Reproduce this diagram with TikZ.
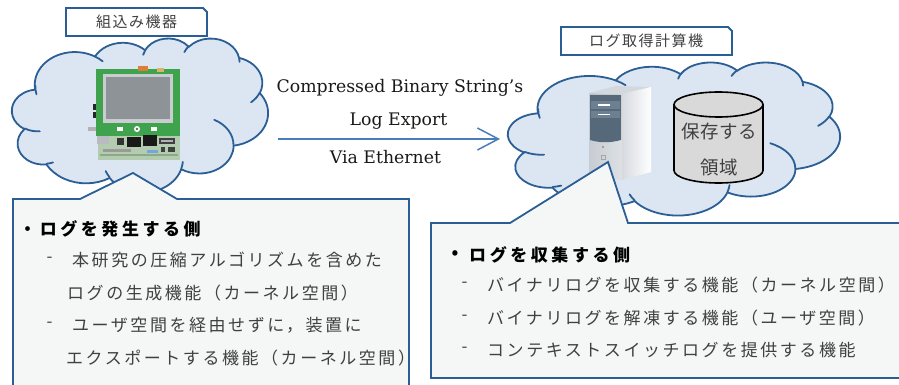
\documentclass[tikz,border=0pt]{standalone}
\usepackage{fontspec}
\usetikzlibrary{arrows.meta}
\newfontfamily\jpbody{Noto Sans CJK JP}[LetterSpace=15]
\newfontfamily\jphead{Noto Sans CJK JP}[LetterSpace=21]
\newfontfamily\jplab{Noto Sans CJK JP}[LetterSpace=10]
\newfontfamily\jpcyl{Noto Sans CJK JP}[LetterSpace=2]
\newfontfamily\latinserif{DejaVu Serif}
\definecolor{cloudfill}{HTML}{DCE6F2}
\definecolor{darkblue}{HTML}{2A5E94}
\definecolor{arrowblue}{HTML}{4A7EBB}
\definecolor{callfill}{HTML}{F5F7F7}
\definecolor{txtgrey}{HTML}{404040}
\definecolor{pcbgreen}{HTML}{3FA34D}
\definecolor{pcblow}{HTML}{B3CBAE}
\definecolor{silver}{HTML}{C6CCD2}
\definecolor{silverside}{HTML}{D6DADF}
\definecolor{silverlight}{HTML}{DDE1E5}
\definecolor{silvertop}{HTML}{D3D8DD}
\definecolor{slate}{HTML}{55697B}
\definecolor{slatelight}{HTML}{6C8092}
\definecolor{tabor}{HTML}{E07B39}
\definecolor{tabye}{HTML}{D9B46A}
\definecolor{lcdframe}{HTML}{C9CDD1}
\definecolor{lcd}{HTML}{8E9398}
\definecolor{jack}{HTML}{B8BCC0}
\definecolor{partgrey}{HTML}{9A9A9A}
\definecolor{partblue}{HTML}{6FA8DC}
\definecolor{pcbedge}{HTML}{8FA88A}
\definecolor{cylgrey}{HTML}{D9D9D9}
% one arc of the cloud outline: x radius, y radius, start angle, sweep (geometric angles)
\newcommand\carc[4]{arc[x radius=#1, y radius=#2,
  start angle={atan2((#1)*sin(#3),(#2)*cos(#3))},
  delta angle={mod(atan2((#1)*sin((#3)+(#4)),(#2)*cos((#3)+(#4)))-atan2((#1)*sin(#3),(#2)*cos(#3))+720,360)}]}
\newcommand\drawcloudat[4]{%
\begin{scope}[shift={(#1,#2)},xscale=#3,yscale=#4]
\draw[cloudshape] (39.00,143.70)
  \carc{67.53}{91.90}{-190.4875}{123.7805}
  \carc{53.33}{72.67}{-144.1024}{89.9452}
  \carc{43.65}{59.45}{-145.8079}{99.7230}
  \carc{48.57}{65.95}{-130.9861}{117.2417}
  \carc{53.33}{72.73}{-78.7089}{109.0269}
  \carc{67.75}{92.20}{-46.2673}{130.2690}
  \carc{57.85}{78.67}{0.6250}{114.0333}
  \carc{67.52}{92.15}{22.4516}{115.1726}
  \carc{77.20}{105.43}{66.2426}{75.7110}
  \carc{43.60}{59.18}{-274.9421}{146.7356}
  \carc{43.45}{59.45}{-246.8285}{152.5189} -- cycle;
\draw[cloudinner]
  (46.93,261.77) \carc{43.45}{59.45}{86.7420}{26.4295}
  (69.28,348.99) \carc{43.60}{59.18}{73.6105}{11.4475}
  (164.78,390.90) \carc{67.52}{92.15}{137.6242}{14.0811}
  (288.27,347.51) \carc{67.52}{92.15}{6.4533}{15.9984}
  (341.29,229.54) \carc{57.85}{78.67}{-70.2924}{70.9174}
  (417.98,153.54) \carc{53.33}{72.73}{30.3180}{27.7515}
  (383.24,54.26) \carc{48.57}{65.95}{-13.7443}{14.8589}
  (290.78,39.52) \carc{48.57}{65.95}{-149.1815}{18.1954}
  (221.41,47.20) \carc{43.65}{59.45}{-163.4943}{17.6864}
  (140.00,51.92) \carc{67.53}{91.90}{-66.7070}{12.3194}
  (41.27,157.89) \carc{67.53}{91.90}{161.3357}{21.1670};
\end{scope}}
\begin{document}
\begin{tikzpicture}[x=1pt,y=-1pt,
  cloudshape/.style={draw=darkblue,fill=cloudfill,line width=1.8pt,line join=round},
  cloudinner/.style={draw=darkblue,line width=1.8pt,line cap=round},
  labelbox/.style={draw=darkblue,fill=white,line width=1.8pt},
  calloutbox/.style={draw=darkblue,fill=callfill,line width=1.8pt,line join=miter},
  labeltext/.style={font={\jplab\fontsize{15pt}{18pt}\selectfont},text=txtgrey,inner sep=0pt},
  headtext/.style={font={\jphead\bfseries\fontsize{17pt}{20pt}\selectfont},text=black,inner sep=0pt,anchor=west},
  bodytext/.style={font={\jpbody\fontsize{17pt}{20pt}\selectfont},text=txtgrey,inner sep=0pt,anchor=west},
  latintext/.style={font={\latinserif\fontsize{17.3pt}{21pt}\selectfont},text=black!90,inner sep=0pt,anchor=base},
  cyltext/.style={font={\jpcyl\fontsize{18.5pt}{22pt}\selectfont},text=txtgrey,inner sep=0pt}]
\useasboundingbox (0,0) rectangle (899,385);

% ---------------- clouds ----------------
\drawcloudat{12}{38}{0.59259}{0.35648}
\drawcloudat{508}{62}{0.76852}{0.35417}

% ---------------- label boxes ----------------
\draw[labelbox] (66,8) -- (203,8) -- (207,12) -- (207,36) -- (66,36) -- cycle;
\node[labeltext] (lab1) at (136.5,22) {組込み機器};
\draw[labelbox] (561,27) -- (728,27) -- (732,31) -- (732,55) -- (561,55) -- cycle;
\node[labeltext] (lab2) at (646,41) {ログ取得計算機};

% ---------------- embedded board ----------------
\fill[black!85] (93,104) rectangle (97,110);
\fill[black!85] (93,112) rectangle (97,118);
\fill[black!30] (88,127) rectangle (97,131);
\fill[pcblow] (98,134) rectangle (180,160);
\fill[pcbgreen] (96,69) rectangle (180,136);
\fill[tabor] (138,66) rectangle (148,71);
\fill[tabye] (157,68) rectangle (164,72);
\fill[lcdframe] (103,74) rectangle (173,123);
\fill[lcd] (106,77) rectangle (170,119);
\fill[white] (117,127.5) rectangle (123,131);
\fill[white] (151,127.5) rectangle (157,131);
\fill[white] (137,129) circle[radius=3];
\fill[black!60] (137,129) circle[radius=1.3];
\fill[jack] (97,136) rectangle (109,144);
\fill[black!80] (117,138) rectangle (124,145);
\fill[black!90] (127,137) rectangle (141,147);
\fill[black!90] (143,135) rectangle (157,146);
\fill[black!75] (159,138) rectangle (175,144);
\fill[black!30] (161,140) rectangle (173,142);
\fill[partgrey] (103,149) rectangle (131,152);
\fill[partblue] (147,150) rectangle (158,153);
\fill[black!75] (161,147) rectangle (165,152);
\fill[black!75] (168,147) rectangle (175,152);
\fill[pcbedge] (100,154) rectangle (178,156);

% ---------------- computer tower ----------------
\fill[silvertop] (589,93) -- (622,94) -- (651,87) -- (616,86) -- cycle;
\shade[left color=silverside,right color=white] (622,94) -- (651,87) -- (651,172) -- (622,180) -- cycle;
\shade[left color=silver,right color=silverlight] (589,93) -- (622,94) -- (622,180) -- (589,178) -- cycle;
\fill[slate] (590,95) -- (621,95) -- (621,140) .. controls (610,143) and (600,143) .. (590,140) -- cycle;
\fill[slatelight] (591,101) rectangle (620,109);
\fill[slatelight] (591,111) rectangle (620,118);
\fill[white] (598,104.2) rectangle (610,105.8);
\fill[white] (598,113.7) rectangle (610,115.3);
\fill[black!45] (603,147) circle[radius=1.1];
\draw[black!35,line width=0.6pt] (601.5,155) rectangle (605.5,159);
\draw[black!15,line width=0.5pt] (622,94) -- (622,180);

% ---------------- storage cylinder ----------------
\draw[fill=cylgrey,draw=black,line width=1.6pt]
  (674,104.5) -- (674,170.5) arc[x radius=44.5,y radius=12.5,start angle=180,end angle=0]
  -- (763,104.5) arc[x radius=44.5,y radius=12.5,start angle=0,end angle=-180] -- cycle;
\draw[draw=black,line width=1.6pt] (763,104.5) arc[x radius=44.5,y radius=12.5,start angle=0,end angle=180];
\node[cyltext] (cyl1) at (719.5,131) {保存する};
\node[cyltext] (cyl2) at (719.5,167) {領域};

% ---------------- arrow and its labels ----------------
\coordinate (arrS) at (278,139);
\coordinate (arrE) at (500,139);
\draw[arrowblue,line width=1.5pt,-{Straight Barb[length=21pt,width=22pt,line width=1.5pt]}] (arrS) -- (arrE);
\node[latintext] (t1) at (400,93) {Compressed Binary String’s};
\node[latintext] (t2) at (398.5,126) {Log Export};
\node[latintext] (t3) at (385.5,164) {Via Ethernet};

% ---------------- callouts ----------------
\draw[calloutbox] (13,199) -- (80,199) -- (133,173) -- (177,199) -- (409,199) -- (409,400) -- (13,400) -- cycle;
\draw[calloutbox] (431,223) -- (510,223) -- (608,162) -- (628,223) -- (915,223) -- (915,378) -- (431,378) -- cycle;

% left callout text
\node[headtext] (lb) at (19,229) {・ログを発生する側};
\node[bodytext] (ld1) at (46.5,260) {-};
\node[bodytext] (l1) at (72,260) {本研究の圧縮アルゴリズムを含めた};
\node[bodytext] (l2) at (67,293) {ログの生成機能（カーネル空間）};
\node[bodytext] (ld2) at (46.5,325) {-};
\node[bodytext] (l3) at (72,325) {ユーザ空間を経由せずに，装置に};
\node[bodytext] (l4) at (66,358) {エクスポートする機能（カーネル空間）};

% right callout text
\node[font={\jphead\bfseries\fontsize{17pt}{20pt}\selectfont},inner sep=0pt] (rb) at (455,255) {•};
\node[headtext] (rh) at (469,255) {ログを収集する側};
\node[bodytext] (rd1) at (461.5,285) {-};
\node[bodytext] (r1) at (487,285) {バイナリログを収集する機能（カーネル空間）};
\node[bodytext] (rd2) at (461.5,318) {-};
\node[bodytext] (r2) at (487,318) {バイナリログを解凍する機能（ユーザ空間）};
\node[bodytext] (rd3) at (461.5,350) {-};
\node[bodytext] (r3) at (487,350) {コンテキストスイッチログを提供する機能};
\end{tikzpicture}
\end{document}
